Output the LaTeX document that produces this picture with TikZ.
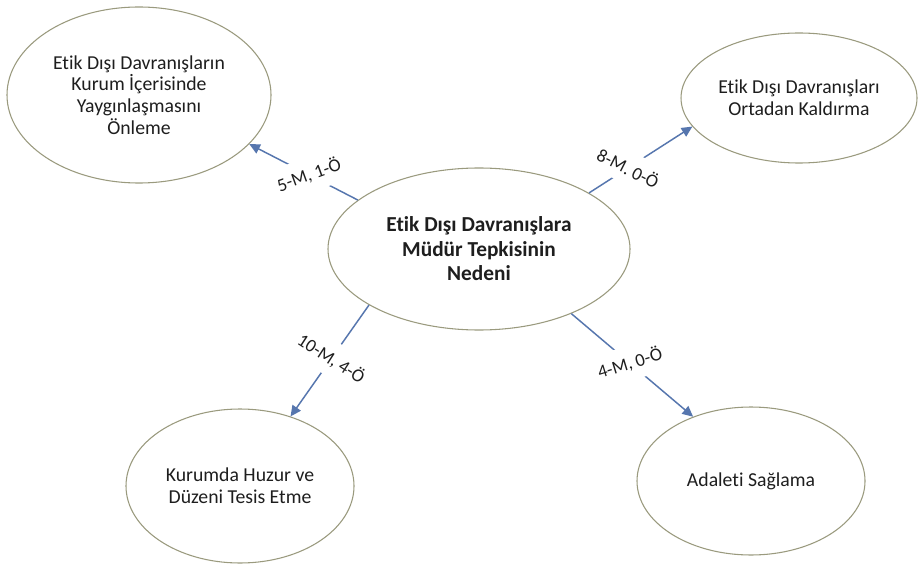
\documentclass[tikz,border=0pt]{standalone}
\usepackage{fontspec}
\setmainfont{Carlito}[Ligatures=NoCommon]
\usetikzlibrary{shapes.geometric,arrows.meta}
\definecolor{rim}{HTML}{9A9A7E}
\definecolor{linkc}{HTML}{5676AE}
\definecolor{ink}{HTML}{1E1E1E}
\begin{document}
\begin{tikzpicture}[x=0.75pt,y=-0.75pt,
  bubble/.style={ellipse,draw=rim,line width=0.8pt,fill=white,inner sep=0pt,
    align=center,text=ink,font=\fontsize{14.8}{16.3}\selectfont},
  core/.style={bubble,font=\fontsize{16}{18.4}\selectfont\bfseries},
  link/.style={draw=linkc,line width=1.1pt,-{Triangle[length=8pt,width=7.5pt]}},
  tag/.style={fill=white,inner xsep=2pt,inner ysep=6.5pt,text=ink,
    font=\fontsize{13.8}{15}\selectfont}
]
\fill[white] (0,0) rectangle (919,566);
\useasboundingbox (0,0) rectangle (919,566);

% central question and its four reasons
\node[core,minimum width=226.5pt,minimum height=121.5pt] (c) at (479,249)
  {Etik Dışı Davranışlara\\Müdür Tepkisinin\\Nedeni};
\node[bubble,minimum width=198pt,minimum height=132pt] (tl) at (139,95)
  {Etik Dışı Davranışların\\Kurum İçerisinde\\Yaygınlaşmasını\\Önleme};
\node[bubble,minimum width=177pt,minimum height=97.5pt] (tr) at (799,98)
  {Etik Dışı Davranışları\\Ortadan Kaldırma};
\node[bubble,minimum width=171pt,minimum height=115.5pt] (bl) at (240,486)
  {Kurumda Huzur ve\\Düzeni Tesis Etme};
\node[bubble,minimum width=171pt,minimum height=111pt] (br) at (751,481)
  {Adaleti Sağlama};

% connectors with their counts
\draw[link] (c.158.7) -- node[tag,rotate=20,pos=0.45] {5-M, 1-Ö} (tl.336.6);
\draw[link] (c.27.6) -- node[tag,rotate=-27,pos=0.38] {8-M. 0-Ö} (tr.195.4);
\draw[link] (c.207.2) -- node[tag,rotate=-33,pos=0.48] {10-M, 4-Ö} (bl.54.1);
\draw[link] (c.325.8) -- node[tag,rotate=17,pos=0.48] {4-M, 0-Ö} (br.132.7);
\end{tikzpicture}
\end{document}
